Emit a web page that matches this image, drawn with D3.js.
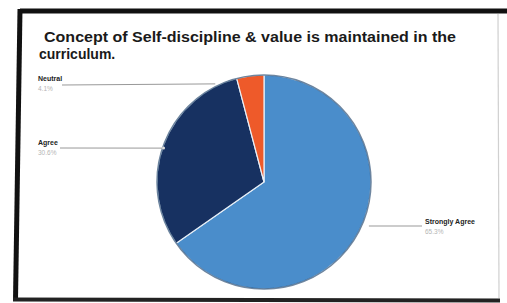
<!DOCTYPE html>
<html><head><meta charset="utf-8">
<script src="https://cdn.jsdelivr.net/npm/d3@7"></script>
<style>body{margin:0;background:#fff}svg{display:block}</style>
</head><body>
<script>
const categories = ["Strongly Agree", "Agree", "Neutral"];
const values = [65.3, 30.6, 4.1];
const pctLabels = ["65.3%", "30.6%", "4.1%"];
const colors = ["#4a8dcb", "#173161", "#ee5a2a"];
const titleLines = ["Concept of Self-discipline & value is maintained in the", "curriculum."];

const W = 507, H = 303;
const svg = d3.select("body").append("svg").attr("width", W).attr("height", H);
svg.append("rect").attr("width", W).attr("height", H).attr("fill", "#fff");

// frame (photographed slide border)
svg.append("path")
  .attr("d", "M20,11 L507,11")
  .attr("stroke", "#111").attr("stroke-width", 5).attr("fill", "none");
svg.append("path")
  .attr("d", "M20,9 L15.5,300")
  .attr("stroke", "#111").attr("stroke-width", 5).attr("fill", "none");
svg.append("path")
  .attr("d", "M13,299.5 L500,300.5")
  .attr("stroke", "#222").attr("stroke-width", 4).attr("fill", "none");
svg.append("path")
  .attr("d", "M498,14 L499,298")
  .attr("stroke", "#d0d0d0").attr("stroke-width", 1.2).attr("fill", "none");

// title
svg.append("g").selectAll("text").data(titleLines).join("text")
  .attr("x", (d, i) => i === 0 ? 44 : 39)
  .attr("y", (d, i) => 42 + i * 17)
  .attr("font-family", "Liberation Sans, Arial, sans-serif")
  .attr("font-weight", "bold").attr("font-size", 14).attr("fill", "#1a1a1a")
  .attr("textLength", (d, i) => i === 0 ? 412 : null)
  .attr("lengthAdjust", "spacingAndGlyphs")
  .text(d => d);

const cx = 264, cy = 182, r = 107;
const data = categories.map((c, i) => ({ c, v: values[i], p: pctLabels[i], col: colors[i] }));
const pie = d3.pie().value(d => d.v).sort(null);
const arcs = pie(data);
const arc = d3.arc().innerRadius(0).outerRadius(r);
const g = svg.append("g").attr("transform", `translate(${cx},${cy})`);
g.selectAll("path").data(arcs).join("path")
  .attr("d", arc).attr("fill", d => d.data.col)
  .attr("stroke", "#e8f0f8").attr("stroke-width", 1.2);
g.append("circle").attr("r", r).attr("fill", "none").attr("stroke", "#1d3f66").attr("stroke-width", 1.5).attr("opacity", 0.6);

// label positions (label anchor points)
const labelPos = {
  "Strongly Agree": { x: 425, y: 224, anchor: "start", lineEndX: 422 },
  "Agree": { x: 38, y: 145, anchor: "start", lineStartX: 60 },
  "Neutral": { x: 38, y: 81, anchor: "start", lineStartX: 62 }
};
const lab = svg.append("g");
arcs.forEach(a => {
  const lp = labelPos[a.data.c];
  const mid = (a.startAngle + a.endAngle) / 2;
  const px = cx + Math.sin(mid) * r, py = cy - Math.cos(mid) * r;
  let x1, y1, x2, y2;
  if (a.data.c === "Strongly Agree") { x1 = px + 10; y1 = lp.y + 2; x2 = lp.lineEndX; y2 = lp.y + 2; }
  else if (a.data.c === "Agree") { x1 = lp.lineStartX; y1 = lp.y + 3; x2 = px; y2 = py + 3; }
  else { x1 = lp.lineStartX; y1 = lp.y + 4; x2 = px - 35; y2 = py + 8; }
  lab.append("line").attr("x1", x1).attr("y1", y1).attr("x2", x2).attr("y2", y2)
    .attr("stroke", "#999").attr("stroke-width", 1);
  if (a.data.c === "Agree") lab.append("circle").attr("cx", x2).attr("cy", y2).attr("r", 1.5).attr("fill", "#ddd");
  lab.append("text").attr("x", lp.x).attr("y", lp.y)
    .attr("font-family", "Liberation Sans, Arial, sans-serif").attr("font-weight", "bold")
    .attr("font-size", 7).attr("fill", "#222").text(a.data.c);
  lab.append("text").attr("x", lp.x).attr("y", lp.y + 10)
    .attr("font-family", "Liberation Sans, Arial, sans-serif")
    .attr("font-size", 6.5).attr("fill", "#b5b5b5").text(a.data.p);
});
</script>
</body></html>
